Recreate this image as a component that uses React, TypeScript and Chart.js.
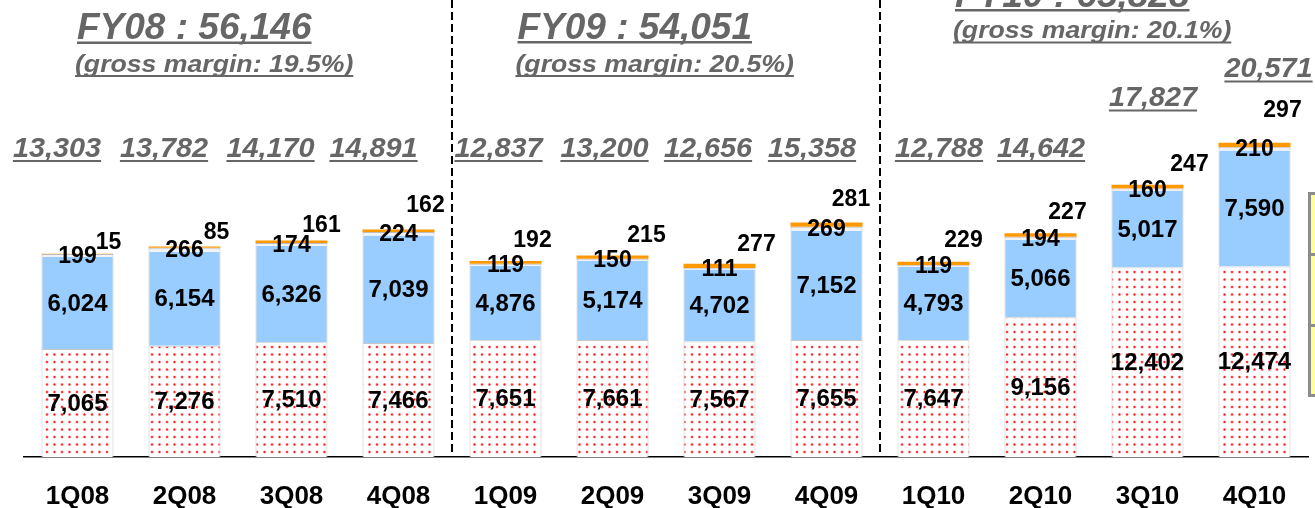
import React, { useEffect, useRef } from "react";
import { Chart, registerables } from "chart.js";

Chart.register(...registerables);

// ---------- data ----------
const categories = ["1Q08", "2Q08", "3Q08", "4Q08", "1Q09", "2Q09", "3Q09", "4Q09", "1Q10", "2Q10", "3Q10", "4Q10"];
const dottedSeries = [7065, 7276, 7510, 7466, 7651, 7661, 7567, 7655, 7647, 9156, 12402, 12474];
const blueSeries = [6024, 6154, 6326, 7039, 4876, 5174, 4702, 7152, 4793, 5066, 5017, 7590];
const greySeries = [199, 266, 174, 224, 119, 150, 111, 269, 119, 194, 160, 210];
const orangeSeries = [15, 85, 161, 162, 192, 215, 277, 281, 229, 227, 247, 297];
const quarterTotals = [13303, 13782, 14170, 14891, 12837, 13200, 12656, 15358, 12788, 14642, 17827, 20571];
const fiscalYears = ["FY08", "FY09", "FY10"];
const fiscalTotals = [56146, 54051, 65828];
const grossMargins = ["19.5%", "20.5%", "20.1%"];
const fiscalFirstQuarter = [0, 4, 8];

// ---------- layout nudges (pixels) ----------
const totalLabelDx = [-20.5, -20.5, -21, -25, -7, -8, -11.5, -14.5, 5.5, 0.5, 5.5, 14];
const totalLabelBaseline = [156.5, 156.5, 156.5, 156.5, 156.5, 156.5, 156.5, 156.5, 156.5, 156.5, 106, 77];
const orangeLabelDx = [31, 32, 30, 27, 27, 34, 37, 24.5, 30, 27, 42, 28];
const orangeLabelDy = [-11, -14, -15, -24, -20.5, -20, -19, -23, -21, -21, -20.5, -32];
const fyTitleDx = [-0.5, 12, 21.5];
const fyTitleBaseline = [39, 38.5, 6.5];
const fyMarginBaseline = [71.5, 71.5, 38];

const FONT = 'Arial, "Liberation Sans", sans-serif';
const GREY_TEXT = "#666666";
const fmt = (n: number) => n.toLocaleString("en-US");

function makeDotPattern(): CanvasPattern | string {
  const c = document.createElement("canvas");
  c.width = 15;
  c.height = 15;
  const g = c.getContext("2d");
  if (!g) return "#fff";
  g.fillStyle = "#ffffff";
  g.fillRect(0, 0, 15, 15);
  for (const px of [2, 9.5]) {
    for (const py of [2, 9.5]) {
      g.fillStyle = "rgba(255,90,90,0.55)";
      g.beginPath();
      g.arc(px, py, 1.6, 0, Math.PI * 2);
      g.fill();
      g.fillStyle = "#ff1010";
      g.beginPath();
      g.arc(px, py, 0.9, 0, Math.PI * 2);
      g.fill();
    }
  }
  const ctx = document.createElement("canvas").getContext("2d");
  return (ctx && ctx.createPattern(c, "repeat")) || "#fff";
}

function underlinedText(
  ctx: CanvasRenderingContext2D,
  text: string,
  x: number,
  y: number,
  align: CanvasTextAlign,
  thickness: number,
  gap: number,
  stretch = 1
) {
  ctx.save();
  ctx.translate(x, y);
  ctx.scale(stretch, 1);
  ctx.textAlign = align;
  ctx.textBaseline = "alphabetic";
  ctx.fillText(text, 0, 0);
  const w = ctx.measureText(text).width;
  const left = align === "center" ? -w / 2 : 0;
  ctx.fillRect(left, gap, w, thickness);
  ctx.restore();
}

const annotate = {
  id: "annotate",
  beforeDatasetsDraw(chart: any) {
    const ctx: CanvasRenderingContext2D = chart.ctx;
    const xs = chart.scales.x;
    ctx.save();
    ctx.strokeStyle = "#000";
    ctx.lineWidth = 2;
    ctx.setLineDash([8, 4]);
    fiscalFirstQuarter.slice(1).forEach((q) => {
      const px = Math.round(xs.getPixelForValue(q - 0.5));
      ctx.beginPath();
      ctx.moveTo(px, 0);
      ctx.lineTo(px, chart.chartArea.bottom - 3);
      ctx.stroke();
    });
    ctx.restore();
  },
  afterDatasetsDraw(chart: any) {
    const ctx: CanvasRenderingContext2D = chart.ctx;
    ctx.save();
    const metas = [0, 1, 2, 3].map((i) => chart.getDatasetMeta(i));
    const series = [dottedSeries, blueSeries, greySeries, orangeSeries];

    // segment labels
    ctx.fillStyle = "#000";
    ctx.textBaseline = "middle";
    ctx.textAlign = "center";
    [0, 1].forEach((d) => {
      ctx.font = `bold 24px ${FONT}`;
      metas[d].data.forEach((el: any, i: number) => {
        ctx.fillText(fmt(series[d][i]), el.x, (el.y + el.base) / 2 + 1);
      });
    });
    ctx.font = `bold 23px ${FONT}`;
    metas[2].data.forEach((el: any, i: number) => {
      ctx.fillText(fmt(greySeries[i]), el.x, (el.y + el.base) / 2 + 1);
    });
    metas[3].data.forEach((el: any, i: number) => {
      ctx.fillText(fmt(orangeSeries[i]), el.x + orangeLabelDx[i], el.y + orangeLabelDy[i]);
    });

    // quarter totals
    ctx.fillStyle = GREY_TEXT;
    ctx.font = `italic bold 28px ${FONT}`;
    metas[3].data.forEach((el: any, i: number) => {
      underlinedText(ctx, fmt(quarterTotals[i]), el.x + totalLabelDx[i], totalLabelBaseline[i], "center", 2, 3.5, 1.03);
    });

    // fiscal year headers
    fiscalYears.forEach((fy, k) => {
      const el = metas[0].data[fiscalFirstQuarter[k]];
      const left = el.x + fyTitleDx[k];
      ctx.font = `italic bold 37px ${FONT}`;
      underlinedText(ctx, `${fy} : ${fmt(fiscalTotals[k])}`, left, fyTitleBaseline[k], "left", 2.5, 2.5);
      ctx.font = `italic bold 24px ${FONT}`;
      underlinedText(ctx, `(gross margin: ${grossMargins[k]})`, left - 2, fyMarginBaseline[k], "left", 2, 3.5, 1.11);
    });
    ctx.restore();
  },
};

export default function App() {
  const ref = useRef<HTMLCanvasElement | null>(null);

  useEffect(() => {
    const canvas = ref.current;
    if (!canvas) return;
    const pattern = makeDotPattern();
    const segBorder = "#c8c8c8";
    const chart = new Chart(canvas, {
      type: "bar",
      data: {
        labels: categories,
        datasets: [
          {
            label: "dotted",
            data: dottedSeries,
            backgroundColor: pattern as any,
            borderColor: segBorder,
            borderWidth: { top: 1, left: 1, right: 1, bottom: 0 },
            borderSkipped: false,
          },
          {
            label: "blue",
            data: blueSeries,
            backgroundColor: "#99ccff",
            borderColor: segBorder,
            borderWidth: { top: 0, left: 1, right: 1, bottom: 0 },
            borderSkipped: false,
          },
          {
            label: "grey",
            data: greySeries,
            backgroundColor: "#f2f2f2",
            borderColor: "#bdbdbd",
            borderWidth: { top: 1, left: 1, right: 1, bottom: 0 },
            borderSkipped: false,
          },
          {
            label: "orange",
            data: orangeSeries,
            backgroundColor: "#ff9900",
            borderWidth: 0,
          },
        ],
      },
      options: {
        animation: false,
        responsive: false,
        layout: { padding: { left: 24, right: 7, top: 0, bottom: 0 } },
        datasets: { bar: { barPercentage: 0.673, categoryPercentage: 1 } },
        plugins: { legend: { display: false }, tooltip: { enabled: false } },
        scales: {
          x: {
            stacked: true,
            grid: { display: false, drawTicks: false },
            border: { display: true, color: "#000", width: 1.5 },
            ticks: {
              color: "#000",
              padding: 27,
              autoSkip: false,
              maxRotation: 0,
              font: { family: FONT, size: 26, weight: "bold", lineHeight: 1 },
            },
            afterFit: (s: any) => {
              s.height = 51;
            },
          },
          y: { stacked: true, display: false, min: 0, max: 29920 },
        },
      } as any,
      plugins: [annotate],
    });
    return () => chart.destroy();
  }, []);

  const boxBorder = "#8c8c8c";
  return (
    <div style={{ position: "absolute", left: 0, top: 0, width: 1315, height: 508, overflow: "hidden", background: "#fff" }}>
      <canvas ref={ref} width={1315} height={508} style={{ display: "block" }} />
      <div
        style={{
          position: "absolute",
          left: 1308,
          top: 192,
          width: 30,
          height: 199,
          background: "#ffff99",
          border: `3px solid ${boxBorder}`,
        }}
      >
        <div style={{ position: "absolute", left: 0, right: 0, top: 58, height: 3, background: boxBorder }} />
        <div style={{ position: "absolute", left: 0, right: 0, top: 129, height: 3, background: boxBorder }} />
      </div>
    </div>
  );
}
